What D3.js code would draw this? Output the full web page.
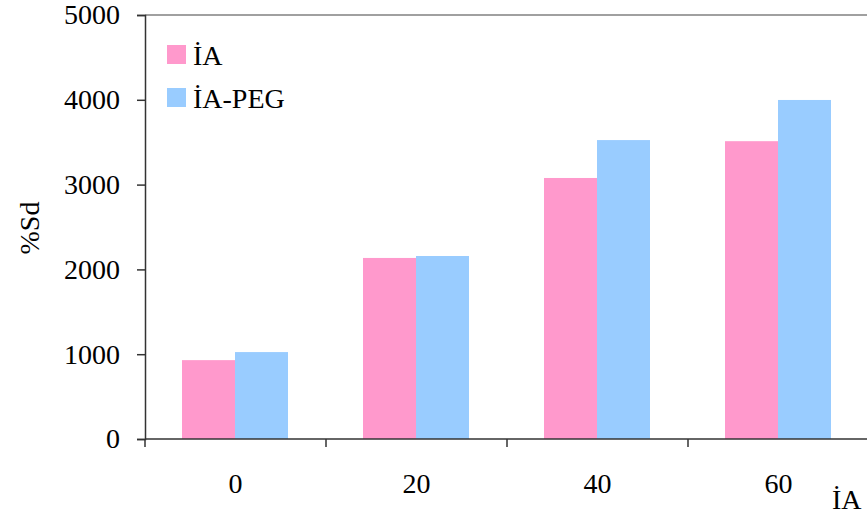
<!DOCTYPE html>
<meta charset="utf-8">
<style>
body { margin: 0; background: #fff; }
text { font-family: "Liberation Serif", "Times New Roman", serif; fill: #000; }
</style>
<body>
<script src="https://d3js.org/d3.v7.min.js"></script>
<script>
// data
const categories = ["0", "20", "40", "60"];
const seriesNames = ["İA", "İA-PEG"];
const iaValues = [930, 2135, 3078, 3512];
const iaPegValues = [1025, 2158, 3525, 3998];
const yTicks = [0, 1000, 2000, 3000, 4000, 5000];
const colors = ["#FF99CC", "#99CCFF"];

const width = 867, height = 517;
const plot = { left: 145, right: 869, top: 15, bottom: 439 };

const svg = d3.select("body").append("svg")
  .attr("width", width)
  .attr("height", height);

const x = d3.scaleBand()
  .domain(categories)
  .range([plot.left, plot.right])
  .paddingInner(0)
  .paddingOuter(0);

const inner = d3.scaleBand()
  .domain(seriesNames)
  .range([37, 143]);

const y = d3.scaleLinear()
  .domain([0, 5000])
  .range([plot.bottom, plot.top]);

const rows = categories.map((c, i) => ({ cat: c, vals: [iaValues[i], iaPegValues[i]] }));

// top frame line
svg.append("line")
  .attr("x1", plot.left).attr("x2", width)
  .attr("y1", plot.top).attr("y2", plot.top)
  .attr("stroke", "#808080").attr("stroke-width", 1.5);

// bars
svg.append("g")
  .selectAll("g")
  .data(rows)
  .join("g")
  .attr("transform", d => `translate(${x(d.cat)},0)`)
  .selectAll("rect")
  .data(d => d.vals.map((v, i) => ({ name: seriesNames[i], v: v, i: i })))
  .join("rect")
  .attr("x", d => inner(d.name))
  .attr("width", inner.bandwidth())
  .attr("y", d => y(d.v))
  .attr("height", d => y(0) - y(d.v))
  .attr("fill", d => colors[d.i]);

// y axis
const yAxis = d3.axisLeft(y).tickValues(yTicks).tickSize(8).tickPadding(17).tickFormat(d3.format("d"));
const gy = svg.append("g")
  .attr("transform", `translate(${plot.left},0)`)
  .call(yAxis);
gy.select(".domain").attr("stroke", "#333").attr("stroke-width", 1.5);
gy.selectAll(".tick line").attr("stroke", "#333").attr("stroke-width", 1.5);
gy.selectAll("text").style("font-size", "28px").style("font-family", "Liberation Serif");

// x axis: ticks at band boundaries, labels centered
const gx = svg.append("g")
  .attr("transform", `translate(0,${plot.bottom})`);
gx.append("line")
  .attr("x1", plot.left).attr("x2", width)
  .attr("stroke", "#333").attr("stroke-width", 1.5);
gx.selectAll(".xt")
  .data(categories)
  .join("line")
  .attr("class", "xt")
  .attr("x1", d => x(d)).attr("x2", d => x(d))
  .attr("y1", 0).attr("y2", 8)
  .attr("stroke", "#333").attr("stroke-width", 1.5);
gx.selectAll(".xl")
  .data(categories)
  .join("text")
  .attr("class", "xl")
  .attr("x", d => x(d) + x.bandwidth() / 2)
  .attr("y", 54)
  .attr("text-anchor", "middle")
  .style("font-size", "28px")
  .text(d => d);

// axis titles
svg.append("text")
  .attr("transform", "translate(39,228) rotate(-90)")
  .attr("text-anchor", "middle")
  .style("font-size", "28px")
  .text("%Sd");

svg.append("text")
  .attr("x", 832)
  .attr("y", 509)
  .style("font-size", "28px")
  .text("İA");

// legend
const legend = svg.append("g")
  .selectAll("g")
  .data(seriesNames)
  .join("g")
  .attr("transform", (d, i) => `translate(167,${45 + i * 43})`);
legend.append("rect")
  .attr("width", 19).attr("height", 19)
  .attr("fill", (d, i) => colors[i]);
legend.append("text")
  .attr("x", 26)
  .attr("y", 20)
  .style("font-size", "28px")
  .text(d => d);
</script>
</body>
